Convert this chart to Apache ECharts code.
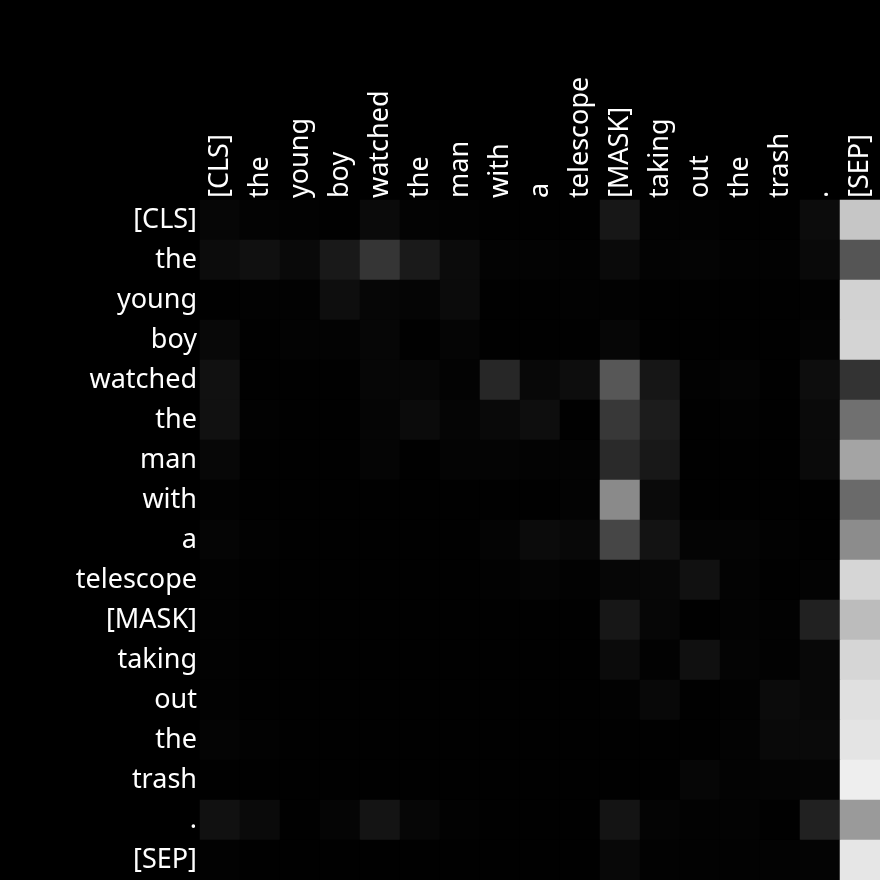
<!DOCTYPE html>
<html>
<head>
<meta charset="utf-8">
<script src="https://cdn.jsdelivr.net/npm/echarts@6/dist/echarts.min.js"></script>
<style>
html,body{margin:0;padding:0;background:#000;}
#chart{width:880px;height:880px;}
</style>
</head>
<body>
<div id="chart"></div>
<script>
const tokens = ['[CLS]','the','young','boy','watched','the','man','with','a','telescope','[MASK]','taking','out','the','trash','.','[SEP]'];

// attention weights, one row per query token
const rowCLS   = [.024,.012,.008,.004,.039,.012,.008,.004,.004,.004,.090,.008,.008,.004,.004,.047,.776];
const rowThe1  = [.047,.063,.035,.098,.208,.102,.043,.012,.012,.008,.039,.012,.016,.008,.008,.035,.333];
const rowYoung = [.004,.008,.008,.055,.024,.020,.043,.004,.002,.008,.008,.004,.004,.004,.004,.008,.824];
const rowBoy   = [.031,.004,.012,.012,.024,.004,.020,.004,.004,.002,.024,.004,.004,.004,.004,.016,.831];
const rowWatch = [.067,.004,.002,.002,.024,.024,.012,.153,.031,.051,.341,.086,.008,.016,.004,.051,.200];
const rowThe2  = [.067,.008,.002,.002,.020,.043,.020,.035,.055,.004,.220,.110,.004,.008,.004,.039,.439];
const rowMan   = [.027,.004,.002,.002,.020,.004,.016,.016,.012,.012,.165,.094,.004,.004,.004,.039,.643];
const rowWith  = [.008,.004,.002,.002,.004,.002,.004,.004,.004,.012,.541,.039,.004,.004,.004,.004,.416];
const rowA     = [.020,.008,.004,.004,.004,.004,.004,.016,.043,.031,.275,.075,.016,.016,.008,.004,.549];
const rowTele  = [.008,.004,.004,.004,.004,.004,.004,.008,.016,.008,.024,.027,.067,.012,.004,.012,.839];
const rowMask  = [.008,.004,.004,.004,.004,.004,.004,.004,.004,.002,.090,.024,.004,.012,.008,.129,.737];
const rowTake  = [.008,.004,.004,.004,.004,.004,.004,.004,.004,.002,.043,.008,.063,.016,.008,.031,.839];
const rowOut   = [.008,.004,.004,.004,.004,.004,.004,.004,.004,.002,.008,.031,.004,.008,.043,.031,.878];
const rowThe3  = [.016,.008,.004,.004,.004,.004,.004,.004,.004,.004,.002,.004,.004,.012,.035,.039,.894];
const rowTrash = [.004,.004,.004,.004,.004,.004,.004,.004,.004,.004,.002,.004,.024,.012,.016,.020,.933];
const rowDot   = [.067,.039,.004,.020,.078,.024,.008,.004,.004,.004,.078,.016,.008,.012,.004,.129,.604];
const rowSEP   = [.008,.004,.004,.004,.004,.004,.004,.004,.004,.002,.031,.008,.008,.008,.012,.016,.902];

const rows = [rowCLS,rowThe1,rowYoung,rowBoy,rowWatch,rowThe2,rowMan,rowWith,rowA,rowTele,rowMask,rowTake,rowOut,rowThe3,rowTrash,rowDot,rowSEP];

const data = [];
rows.forEach((r, yi) => r.forEach((v, xi) => data.push([xi, yi, v])));

const chart = echarts.init(document.getElementById('chart'), null, {renderer: 'canvas'});
chart.setOption({
  backgroundColor: '#000000',
  animation: false,
  grid: {left: 200, top: 200, right: 0, bottom: 0},
  xAxis: {
    type: 'category', data: tokens, position: 'top',
    axisLine: {show: false}, axisTick: {show: false}, splitLine: {show: false},
    axisLabel: {rotate: -90, interval: 0, color: '#ffffff', fontFamily: 'Noto Sans', fontSize: 27, margin: 2, padding: [0, 0, 0, 0]}
  },
  yAxis: {
    type: 'category', data: tokens, inverse: true,
    axisLine: {show: false}, axisTick: {show: false}, splitLine: {show: false},
    axisLabel: {interval: 0, color: '#ffffff', fontFamily: 'Noto Sans', fontSize: 27, margin: 3, padding: [6, 0, 0, 0]}
  },
  visualMap: {
    show: false, min: 0, max: 1, calculable: false,
    inRange: {color: ['#000000', '#ffffff']}
  },
  series: [{
    type: 'heatmap', data: data,
    itemStyle: {borderWidth: 0},
    emphasis: {disabled: true}
  }]
});
</script>
</body>
</html>
